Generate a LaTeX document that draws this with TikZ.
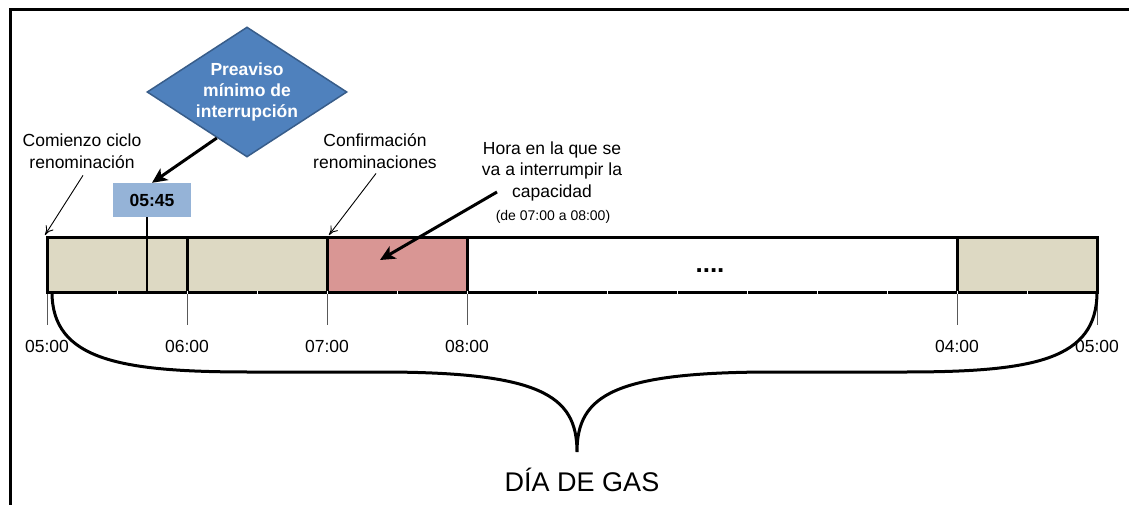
\documentclass[tikz,border=0pt]{standalone}
\usepackage{fontspec}
\setmainfont{Liberation Sans}
\usetikzlibrary{shapes.geometric,arrows.meta,calc}

\definecolor{tramo}{HTML}{DDD9C3}
\definecolor{corte}{HTML}{D99694}
\definecolor{cajaazul}{HTML}{95B3D7}
\definecolor{rombo}{HTML}{4F81BD}
\definecolor{romboborde}{HTML}{385D8A}

\tikzset{
  texto/.style={align=center,font=\fontsize{17.5}{21.5}\selectfont,inner sep=0pt},
  hora/.style={font=\fontsize{17.5}{21}\selectfont,inner sep=0pt},
  barra/.style={line width=3pt},
  guia/.style={line width=0.8pt,color=black!65},
  fina/.style={line width=0.9pt,-{To[length=9pt,width=9pt]}},
  gruesa/.style={line width=3pt,-{Stealth[length=15pt,width=14pt,inset=4pt]}},
  aviso/.style={diamond,aspect=1.54,minimum width=200pt,minimum height=130pt,inner sep=0pt,
    fill=rombo,draw=romboborde,line width=1.5pt,text=white,align=center,
    font=\fontsize{17.5}{21}\selectfont\bfseries},
}

\begin{document}
\begin{tikzpicture}[line cap=butt,line join=miter,x=1pt,y=-1pt]
\useasboundingbox (0,0) rectangle (1129,505);

% marco
\draw [line width=3pt] (10,505) -- (10,10) -- (1129,10);

% guias y horas
\foreach \x/\t in {47/05:00,187/06:00,327/07:00,467/08:00,957/04:00,1097/05:00}
{
  \draw [guia] (\x,292) -- (\x,325);
  \node[hora] (t\x) at (\x,346) {\t};
}

% barra del dia de gas
\fill [tramo] (47,237) rectangle (327,292);
\fill [corte] (327,237) rectangle (467,292);
\fill [tramo] (957,237) rectangle (1097,292);
\draw [barra] (47,237) rectangle (1097,292);
\draw [barra] (187,237) -- (187,292);
\draw [barra] (327,237) -- (327,292);
\draw [barra] (467,237) -- (467,292);
\draw [barra] (957,237) -- (957,292);
\draw [line width=2pt] (147,237) -- (147,292);
\foreach \x in {117,187,...,1027}
  \draw [white,line width=1pt] (\x,290.5) -- (\x,293.5);

\coordinate (inicio) at (45,235);
\coordinate (confirma) at (329,235);
\coordinate (m545) at (147,237);
\coordinate (interrumpe) at (380,260);
\coordinate (horafrom) at (497,192);

\node (puntos) at (710,271) {\fontsize{26}{26}\selectfont\bfseries ....};

% 05:45
\node[fill=cajaazul,minimum width=78pt,minimum height=34pt,inner sep=0pt,
  font=\fontsize{17.5}{21}\selectfont\bfseries] (h545) at (152,200) {05:45};
\draw [line width=1.5pt] (h545.south -| m545) -- (m545);

% rombo
\node[aviso] (preaviso) at (247,92) {Preaviso\\mínimo de\\interrupción};
\draw [gruesa] ($(preaviso.west)!0.7!(preaviso.south)$) -- (h545.north);

% textos
\node[texto] (comienzo) at (82,151) {Comienzo ciclo\\renominación};
\node[texto] (confirmacion) at (375,151) {Confirmación\\renominaciones};
\node[texto] (horatxt) at (552,171) {Hora en la que se\\va a interrumpir la\\capacidad};
\node[font=\fontsize{14}{16}\selectfont,inner sep=0pt] (horanota) at (553,217) {(de 07:00 a 08:00)};

\draw [fina] ($(comienzo.south)+(1,7)$) -- (inicio);
\draw [fina] ($(confirmacion.south)+(1,5)$) -- (confirma);
\draw [gruesa] (horafrom) -- (interrumpe);

% llave
\draw [line width=3pt] (52,292) .. controls (52,360) and (120,372) .. (250,372) -- (380,372)
  .. controls (540,372) and (577,395) .. (577,452)
  .. controls (577,395) and (614,372) .. (774,372) -- (904,372)
  .. controls (1034,372) and (1097,360) .. (1097,292);
\node[font=\fontsize{27}{27}\selectfont,inner sep=0pt] (diagas) at (582,480) {DÍA DE GAS};
\end{tikzpicture}
\end{document}
